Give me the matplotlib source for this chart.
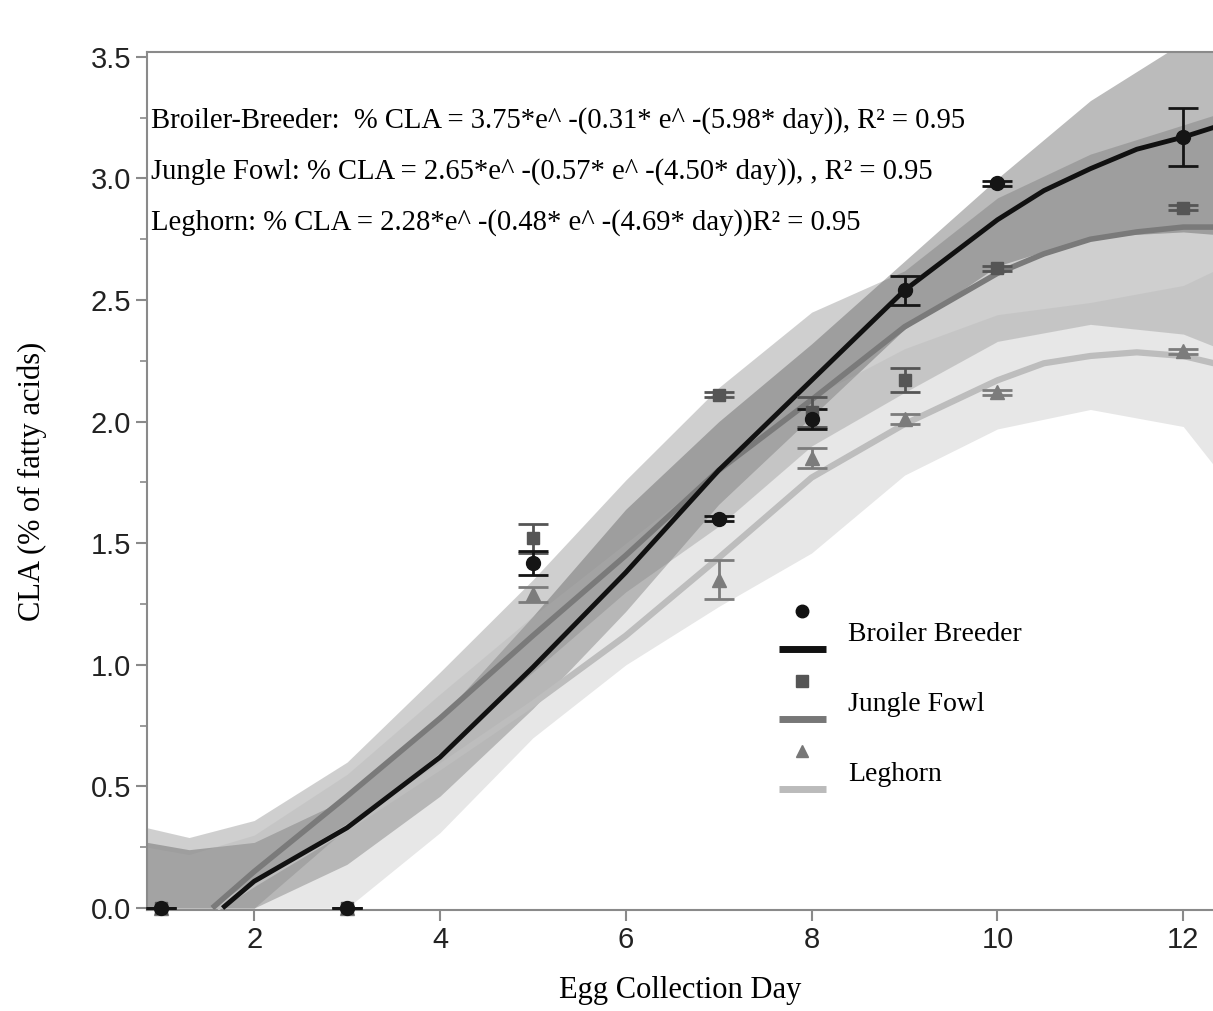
import matplotlib
matplotlib.use('Agg')
import matplotlib.pyplot as plt
from matplotlib.lines import Line2D
from matplotlib.legend_handler import HandlerBase

# observed means (egg collection day)
days = [1, 3, 5, 7, 8, 9, 10, 12]
bb_mean = [0.0, 0.0, 1.42, 1.60, 2.01, 2.54, 2.98, 3.17]
bb_err = [0.0, 0.0, 0.05, 0.01, 0.04, 0.06, 0.01, 0.12]
jf_mean = [0.0, 0.0, 1.52, 2.11, 2.04, 2.17, 2.63, 2.88]
jf_err = [0.0, 0.0, 0.06, 0.01, 0.06, 0.05, 0.01, 0.01]
lh_mean = [0.0, 0.0, 1.29, 1.35, 1.85, 2.01, 2.12, 2.29]
lh_err = [0.0, 0.0, 0.03, 0.08, 0.04, 0.02, 0.01, 0.01]

# fitted gompertz curves
bb_fit_days = [1.66, 2, 3, 4, 5, 6, 7, 8, 9, 10, 10.5, 11, 11.5, 12, 12.33]
bb_fit = [0.0, 0.11, 0.33, 0.62, 0.99, 1.38, 1.80, 2.17, 2.54, 2.83, 2.95, 3.04, 3.12, 3.17, 3.21]
jf_fit_days = [1.55, 2, 3, 4, 5, 6, 7, 8, 9, 10, 10.5, 11, 11.5, 12, 12.33]
jf_fit = [0.0, 0.15, 0.46, 0.78, 1.12, 1.45, 1.80, 2.09, 2.39, 2.61, 2.69, 2.75, 2.78, 2.80, 2.80]
lh_fit_days = [1.6, 2, 3, 4, 5, 6, 7, 8, 9, 10, 10.5, 11, 11.5, 12, 12.33]
lh_fit = [0.0, 0.10, 0.33, 0.58, 0.84, 1.12, 1.44, 1.77, 1.99, 2.17, 2.24, 2.27, 2.285, 2.27, 2.24]

# confidence bands
band_days = [0.85, 1.3, 2, 3, 4, 5, 6, 7, 8, 9, 10, 11, 12, 12.33]
bb_hi = [0.27, 0.24, 0.27, 0.45, 0.78, 1.20, 1.64, 2.00, 2.32, 2.66, 3.00, 3.32, 3.56, 3.66]
bb_lo = [0.0, 0.0, 0.0, 0.18, 0.46, 0.82, 1.22, 1.66, 2.02, 2.38, 2.64, 2.76, 2.78, 2.77]
jf_hi = [0.33, 0.29, 0.36, 0.60, 0.97, 1.35, 1.76, 2.14, 2.45, 2.62, 2.92, 3.10, 3.22, 3.26]
jf_lo = [0.0, 0.0, 0.0, 0.33, 0.64, 0.97, 1.30, 1.57, 1.90, 2.12, 2.33, 2.40, 2.36, 2.31]
lh_hi = [0.25, 0.22, 0.30, 0.55, 0.88, 1.20, 1.50, 1.80, 2.10, 2.30, 2.44, 2.49, 2.56, 2.62]
lh_lo = [0.0, 0.0, 0.0, 0.0, 0.31, 0.70, 1.00, 1.24, 1.46, 1.78, 1.97, 2.05, 1.98, 1.82]

equations = [
    'Broiler-Breeder:  % CLA = 3.75*e^ -(0.31* e^ -(5.98* day)), R\u00b2 = 0.95',
    'Jungle Fowl: % CLA = 2.65*e^ -(0.57* e^ -(4.50* day)), , R\u00b2 = 0.95',
    'Leghorn: % CLA = 2.28*e^ -(0.48* e^ -(4.69* day))R\u00b2 = 0.95',
]
names = ['Broiler Breeder', 'Jungle Fowl', 'Leghorn']

serif = 'Liberation Serif'
sans = 'Liberation Sans'


class MarkerOverLine(HandlerBase):
    # legend entry: marker on top, line segment underneath
    def create_artists(self, legend, orig_handle, xdescent, ydescent,
                       width, height, fontsize, trans):
        mk, ln = orig_handle
        m = Line2D([width / 2], [height * 1.55], marker=mk.get_marker(),
                   color=mk.get_color(), markersize=mk.get_markersize(),
                   linestyle='none', transform=trans)
        l = Line2D([0, width], [-height * 0.4] * 2, color=ln.get_color(),
                   lw=ln.get_linewidth(), solid_capstyle='butt', transform=trans)
        return [m, l]


fig = plt.figure(figsize=(12.13, 10.11), dpi=100)
ax = fig.add_axes([0.1212, 0.0999, 0.8788, 0.8487])

ax.fill_between(band_days, jf_lo, jf_hi, color='#707070', alpha=0.33, lw=0)
ax.fill_between(band_days, bb_lo, bb_hi, color='#555555', alpha=0.40, lw=0)
ax.fill_between(band_days, lh_lo, lh_hi, color='#b0b0b0', alpha=0.30, lw=0)

ax.plot(lh_fit_days, lh_fit, color='#bdbdbd', lw=4.5, zorder=3, solid_capstyle='butt')
ax.plot(jf_fit_days, jf_fit, color='#7a7a7a', lw=4, zorder=3, solid_capstyle='butt')
ax.plot(bb_fit_days, bb_fit, color='#111111', lw=3.5, zorder=4, solid_capstyle='butt')

series = [
    (lh_mean, lh_err, '^', '#7c7c7c', 10),
    (jf_mean, jf_err, 's', '#555555', 9),
    (bb_mean, bb_err, 'o', '#151515', 10),
]
for mean, err, mk, col, ms in series:
    ax.errorbar(days, mean, yerr=err, fmt=mk, color=col, ms=ms, capsize=11,
                capthick=2, elinewidth=2, zorder=5, clip_on=False)

handles = [
    (Line2D([], [], marker='o', color='#111111', markersize=9, linestyle='none'),
     Line2D([], [], color='#111111', lw=5)),
    (Line2D([], [], marker='s', color='#555555', markersize=8, linestyle='none'),
     Line2D([], [], color='#777777', lw=5)),
    (Line2D([], [], marker='^', color='#777777', markersize=9, linestyle='none'),
     Line2D([], [], color='#bbbbbb', lw=5)),
]
ax.legend(handles, names, handler_map={tuple: MarkerOverLine()},
          loc='upper left', bbox_to_anchor=(0.569, 0.365), frameon=False,
          prop={'family': serif, 'size': 20}, handlelength=1.7,
          handletextpad=0.8, labelspacing=1.6)

for i, eq in enumerate(equations):
    ax.text(0.004, 0.92 - i * 0.0595, eq, transform=ax.transAxes,
            family=serif, fontsize=20.6, va='center', ha='left', zorder=6)

ax.set_xlim(0.847, 12.32)
ax.set_ylim(-0.008, 3.52)
ax.set_xticks([2, 4, 6, 8, 10, 12])
ax.set_yticks([0.0, 0.5, 1.0, 1.5, 2.0, 2.5, 3.0, 3.5])
ax.set_yticks([0.25, 0.75, 1.25, 1.75, 2.25, 2.75, 3.25], minor=True)
ax.set_yticklabels(['0.0', '0.5', '1.0', '1.5', '2.0', '2.5', '3.0', '3.5'])

for s in ['left', 'bottom', 'top']:
    ax.spines[s].set_color('#8a8a8a')
    ax.spines[s].set_linewidth(1.5)
ax.spines['right'].set_visible(False)
ax.tick_params(axis='both', which='major', length=8, width=1.5, color='#8a8a8a',
               labelsize=21, labelcolor='#222222')
ax.tick_params(axis='y', which='minor', length=5, width=1.2, color='#8a8a8a')
for lbl in ax.get_xticklabels() + ax.get_yticklabels():
    lbl.set_family(sans)

ax.set_xlabel('Egg Collection Day', family=serif, fontsize=22, labelpad=16)
ax.set_ylabel('CLA (% of fatty acids)', family=serif, fontsize=22, labelpad=31)

plt.savefig('out.png', dpi=100)
